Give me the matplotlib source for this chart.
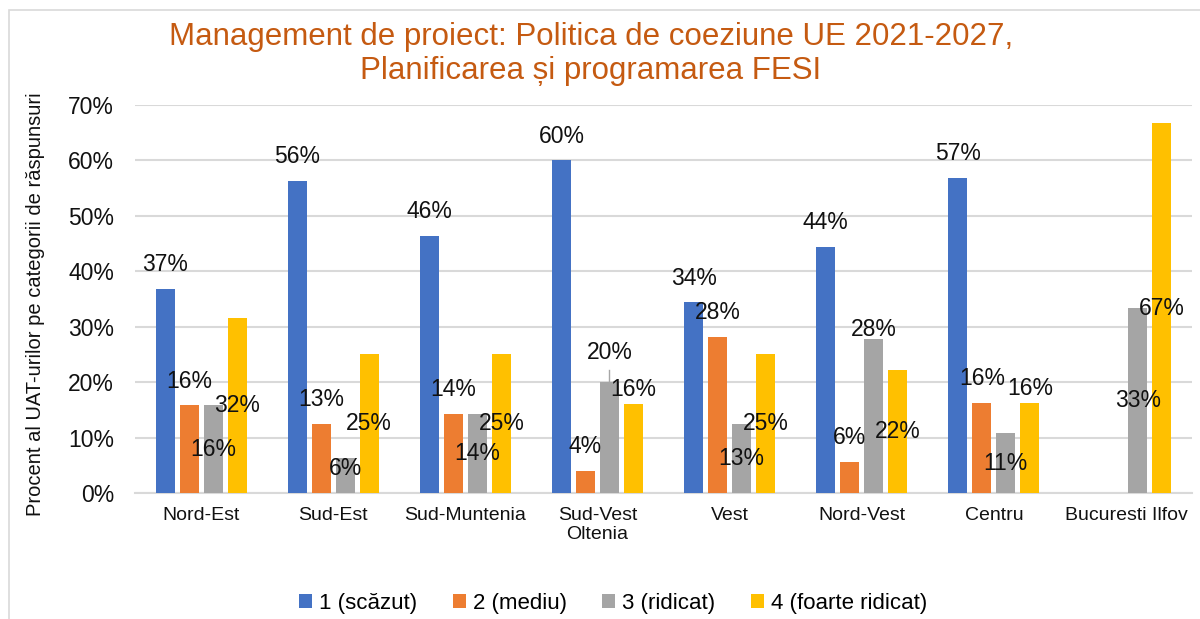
import math
import matplotlib
matplotlib.use("Agg")
import matplotlib.pyplot as plt
import numpy as np
from matplotlib.patches import Rectangle, Patch

plt.rcParams['font.family'] = ['Liberation Sans', 'DejaVu Sans']

regions = ['Nord-Est', 'Sud-Est', 'Sud-Muntenia', 'Sud-Vest\nOltenia',
           'Vest', 'Nord-Vest', 'Centru', 'Bucuresti Ilfov']
series_names = ['1 (scăzut)', '2 (mediu)', '3 (ridicat)', '4 (foarte ridicat)']

# percent of UATs per answer category
scazut = [36.84, 56.25, 46.43, 60.00, 34.38, 44.44, 56.76, np.nan]
mediu = [15.79, 12.50, 14.29, 4.00, 28.13, 5.56, 16.22, np.nan]
ridicat = [15.79, 6.25, 14.29, 20.00, 12.50, 27.78, 10.81, 33.33]
foarte_ridicat = [31.58, 25.00, 25.00, 16.00, 25.00, 22.22, 16.22, 66.67]

series = [scazut, mediu, ridicat, foarte_ridicat]
colors = ['#4472C4', '#ED7D31', '#A5A5A5', '#FFC000']
label_mode = ['end', 'end', 'center', 'center']
# labels that were moved by hand (y of label centre, in %)
label_moved = {(1, 2): 4.5, (3, 2): 25.3, (3, 3): 18.6, (5, 2): 29.5, (6, 3): 18.9}

fig = plt.figure(figsize=(12, 6.19), dpi=100)
ax = fig.add_axes([135 / 1200, 1 - 493 / 619, (1192 - 135) / 1200, (493 - 105) / 619])

x = np.arange(len(regions))
step = 0.1817
width = 0.144

for s, (vals, col) in enumerate(zip(series, colors)):
    pos = x + (s - 1.5) * step
    ax.bar(pos, np.nan_to_num(vals), width=width, color=col, zorder=3)
    for g, v in enumerate(vals):
        if np.isnan(v):
            continue
        txt = f"{math.floor(v + 0.5)}%"
        if (g, s) in label_moved:
            ly = label_moved[(g, s)]
        elif label_mode[s] == 'end':
            ly = v + 4.4
        else:
            ly = v / 2
        ax.text(pos[g], ly, txt, ha='center', va='center', fontsize=16.5,
                color='#111111', zorder=5)

# leader line for the moved Sud-Vest label
lx = x[3] + 0.5 * step
ax.plot([lx, lx], [ridicat[3], ridicat[3] + 2.2], color='#A6A6A6', lw=1, zorder=4)

ax.set_xlim(-0.5, len(regions) - 0.5)
ax.set_ylim(0, 70)
ax.set_yticks(range(0, 80, 10))
ax.set_yticklabels([f"{t}%" for t in range(0, 80, 10)], fontsize=16.5, color='#111111')
ax.set_xticks(x)
ax.set_xticklabels(regions, fontsize=14, color='#111111')
ax.tick_params(axis='y', length=0, pad=15)
ax.tick_params(axis='x', length=0, pad=10)
ax.grid(axis='y', color='#D9D9D9', lw=1.5, zorder=0)
for side in ['left', 'right', 'top']:
    ax.spines[side].set_visible(False)
ax.spines['bottom'].set_color('#D9D9D9')
ax.spines['bottom'].set_linewidth(1.5)
ax.set_ylabel('Procent al UAT-urilor pe categorii de răspunsuri', fontsize=14.5,
              color='#111111')
ax.yaxis.set_label_coords(-(135 - 45) / 1057, (493 - 304.5) / 388)

fig.text(591 / 1200, 1 - 54 / 619,
         'Management de proiect: Politica de coeziune UE 2021-2027,\n'
         'Planificarea și programarea FESI',
         ha='center', va='center', fontsize=22.5, color='#C55A11', linespacing=1.15)

handles = [Patch(facecolor=c) for c in colors]
fig.legend(handles, series_names, loc='center', bbox_to_anchor=(613 / 1200, 1 - 603 / 619),
           ncol=4, frameon=False, fontsize=16, handlelength=0.6, handleheight=0.6,
           handletextpad=0.3, columnspacing=1.6)

# chart area border
fig.patches.append(Rectangle((9 / 1200, -0.1), 1.2, 1 - 10 / 619 + 0.1,
                             transform=fig.transFigure, fill=False,
                             edgecolor='#D9D9D9', lw=1.2))

fig.savefig('out.png', dpi=100)
